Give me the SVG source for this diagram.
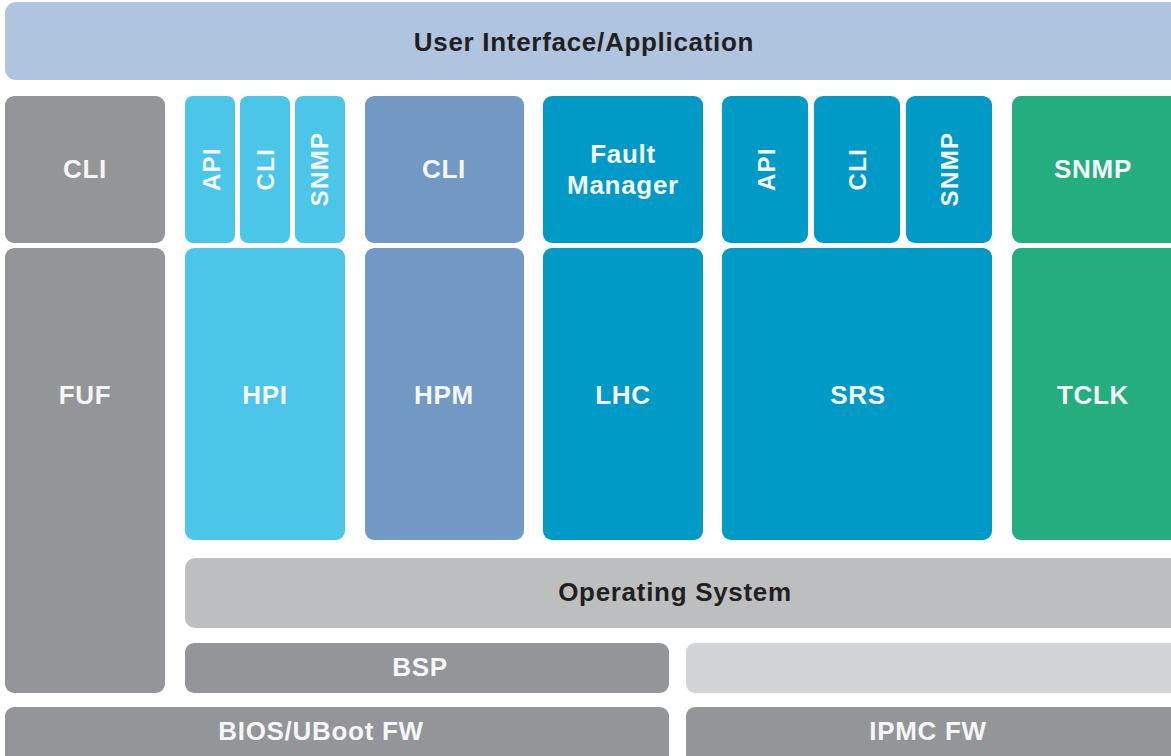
<svg xmlns="http://www.w3.org/2000/svg" width="1171" height="756" viewBox="0 0 1171 756">
<style>
.t{font-family:"Liberation Sans",Arial,sans-serif;font-weight:bold;text-anchor:middle;dominant-baseline:central;letter-spacing:0.7px}
.w{fill:#f4f6f7;font-size:26px}
.d{fill:#231f20;font-size:26px}
.v{fill:#f4f6f7;font-size:24px;letter-spacing:1.4px}
.ui{fill:#afc4df}
.gray{fill:#939598}
.sky{fill:#4bc6e8}
.steel{fill:#7298c4}
.cyan{fill:#009ac7}
.green{fill:#24ae80}
.os{fill:#bcbec0}
.light{fill:#d1d3d4}
</style>
<rect width="1171" height="756" fill="#ffffff"/>
<g id="ui"><rect class="ui" x="5" y="2" width="1176" height="78" rx="11"/><text class="t d" x="584" y="42">User Interface/Application</text></g>
<g id="cli-left"><rect class="gray" x="5" y="96" width="160" height="147" rx="9"/><text class="t w" x="85" y="169">CLI</text></g>
<g id="fuf"><rect class="gray" x="5" y="248" width="160" height="445" rx="9"/><text class="t w" x="85" y="395">FUF</text></g>
<g id="hpi-api"><rect class="sky" x="185" y="96" width="50" height="147" rx="8"/><text class="t v" transform="translate(211,169) rotate(-90)">API</text></g>
<g id="hpi-cli"><rect class="sky" x="240" y="96" width="50" height="147" rx="8"/><text class="t v" transform="translate(265,169) rotate(-90)">CLI</text></g>
<g id="hpi-snmp"><rect class="sky" x="295" y="96" width="50" height="147" rx="8"/><text class="t v" transform="translate(319,169) rotate(-90)">SNMP</text></g>
<g id="hpi"><rect class="sky" x="185" y="248" width="160" height="292" rx="9"/><text class="t w" x="265" y="395">HPI</text></g>
<g id="hpm-cli"><rect class="steel" x="365" y="96" width="159" height="147" rx="9"/><text class="t w" x="444" y="169">CLI</text></g>
<g id="hpm"><rect class="steel" x="365" y="248" width="159" height="292" rx="9"/><text class="t w" x="444" y="395">HPM</text></g>
<g id="fault-manager"><rect class="cyan" x="543" y="96" width="160" height="147" rx="9"/><text class="t w" x="623" y="154">Fault</text><text class="t w" x="623" y="185">Manager</text></g>
<g id="lhc"><rect class="cyan" x="543" y="248" width="160" height="292" rx="9"/><text class="t w" x="623" y="395">LHC</text></g>
<g id="srs-api"><rect class="cyan" x="722" y="96" width="86" height="147" rx="9"/><text class="t v" transform="translate(766,169) rotate(-90)">API</text></g>
<g id="srs-cli"><rect class="cyan" x="814" y="96" width="86" height="147" rx="9"/><text class="t v" transform="translate(857,169) rotate(-90)">CLI</text></g>
<g id="srs-snmp"><rect class="cyan" x="906" y="96" width="86" height="147" rx="9"/><text class="t v" transform="translate(949,169) rotate(-90)">SNMP</text></g>
<g id="srs"><rect class="cyan" x="722" y="248" width="270" height="292" rx="9"/><text class="t w" x="858" y="395">SRS</text></g>
<g id="tclk-snmp"><rect class="green" x="1012" y="96" width="169" height="147" rx="9"/><text class="t w" x="1093" y="169">SNMP</text></g>
<g id="tclk"><rect class="green" x="1012" y="248" width="169" height="292" rx="9"/><text class="t w" x="1093" y="395">TCLK</text></g>
<g id="os"><rect class="os" x="185" y="558" width="996" height="70" rx="10"/><text class="t d" x="675" y="592">Operating System</text></g>
<g id="bsp"><rect class="gray" x="185" y="643" width="484" height="50" rx="9"/><text class="t w" x="420" y="667">BSP</text></g>
<g id="blank"><rect class="light" x="686" y="643" width="495" height="50" rx="9"/></g>
<g id="bios"><rect class="gray" x="5" y="707" width="664" height="60" rx="9"/><text class="t w" x="321" y="731">BIOS/UBoot FW</text></g>
<g id="ipmc"><rect class="gray" x="686" y="707" width="495" height="60" rx="9"/><text class="t w" x="928" y="731">IPMC FW</text></g>
<g id="connectors"/>
</svg>
